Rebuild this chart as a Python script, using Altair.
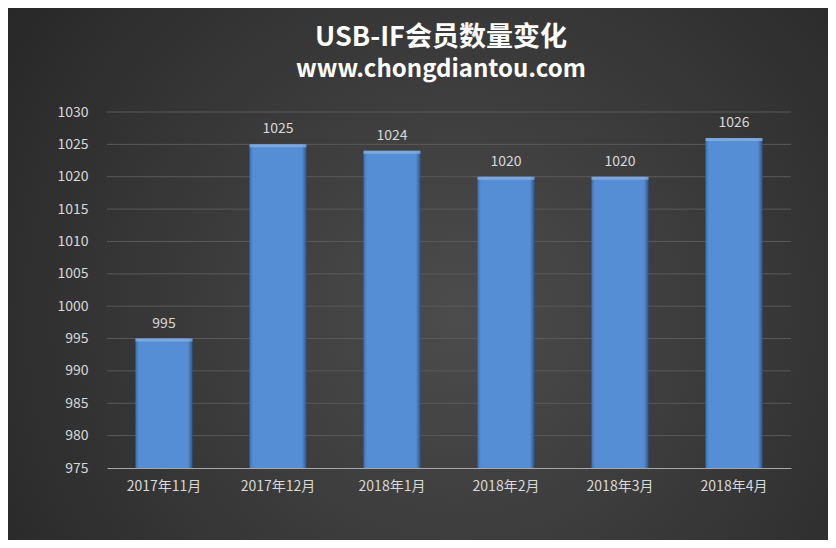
import altair as alt
import pandas as pd

categories = ["2017年11月", "2017年12月", "2018年1月", "2018年2月", "2018年3月", "2018年4月"]
members = [995, 1025, 1024, 1020, 1020, 1026]
y_ticks = [975, 980, 985, 990, 995, 1000, 1005, 1010, 1015, 1020, 1025, 1030]
title_lines = ["USB-IF会员数量变化", "www.chongdiantou.com"]
y_min, y_max = 975, 1030

df = pd.DataFrame({"month": categories, "members": members, "base": [y_min] * len(categories)})
grid_df = pd.DataFrame({"v": y_ticks[1:]})

font = "Noto Sans CJK SC"
W, H = 684, 356
PL, PT = 99, 104
TOTAL_W, TOTAL_H = 820, 532
TITLE_X = 441 - 8 - PL
TITLE_Y = [38 - 8 - PT, 70 - 8 - PT]
TITLE_SIZE = [27, 24]

y_scale = alt.Scale(domain=[y_min, y_max], zero=False, nice=False)
x_scale = alt.Scale(paddingInner=0.5, paddingOuter=0.25)
x_sort = categories

x_axis = alt.Axis(labelAngle=0, labelColor="#d9d9d9", labelFontSize=14, labelFont=font,
                  labelPadding=11, ticks=False, domainColor="#a6a6a6", domainWidth=1.2,
                  grid=False, zindex=1, title=None)
y_axis = alt.Axis(values=y_ticks, format="d", labelOverlap=False, labelColor="#d9d9d9",
                  labelFontSize=14, labelFont=font, labelPadding=19, ticks=False,
                  domain=False, grid=False, zindex=1, title=None)

bg = alt.Chart(df).mark_rect(
    fill=alt.RadialGradient(gradient="radial", x1=0.55, y1=0.55, x2=0.55, y2=0.55, r1=0, r2=0.75,
                            stops=[alt.GradientStop(offset=0, color="#4c4c4c"),
                                   alt.GradientStop(offset=1, color="#232323")])
).encode(x=alt.value(-PL), x2=alt.value(TOTAL_W - PL), y=alt.value(-PT), y2=alt.value(TOTAL_H - PT))

grid = alt.Chart(grid_df).mark_rule(color="#5a5a5a", strokeWidth=1).encode(
    y=alt.Y("v:Q", scale=y_scale, axis=y_axis), x=alt.value(0), x2=alt.value(W))

bars = alt.Chart(df).mark_bar(
    fill=alt.LinearGradient(gradient="linear", x1=0, y1=0, x2=1, y2=0,
                            stops=[alt.GradientStop(offset=0, color="#3f6fae"),
                                   alt.GradientStop(offset=0.06, color="#558ed5"),
                                   alt.GradientStop(offset=0.92, color="#558ed5"),
                                   alt.GradientStop(offset=1, color="#2e5587")])
).encode(
    x=alt.X("month:N", sort=x_sort, scale=x_scale, axis=x_axis),
    y=alt.Y("members:Q", scale=y_scale, axis=y_axis),
    y2="base:Q",
)

tops = alt.Chart(df).mark_tick(color="#8db4e2", thickness=3, size=57, yOffset=1.5).encode(
    x=alt.X("month:N", sort=x_sort, scale=x_scale, axis=x_axis),
    y=alt.Y("members:Q", scale=y_scale, axis=y_axis))

labels = alt.Chart(df).mark_text(color="#d9d9d9", fontSize=14, font=font, dy=-15).encode(
    x=alt.X("month:N", sort=x_sort, scale=x_scale, axis=x_axis),
    y=alt.Y("members:Q", scale=y_scale, axis=y_axis),
    text="members:Q")

title_layers = []
for i, line in enumerate(title_lines):
    tdf = pd.DataFrame({"t": [line]})
    title_layers.append(
        alt.Chart(tdf).mark_text(font=font, fontSize=TITLE_SIZE[i], fontWeight="bold", color="#ffffff",
                                 baseline="middle", align="center").encode(
            x=alt.value(TITLE_X), y=alt.value(TITLE_Y[i]), text="t:N"))

chart = alt.layer(bg, grid, bars, tops, labels, *title_layers).properties(
    width=W, height=H,
    autosize=alt.AutoSizeParams(type="none"),
    padding={"left": PL, "top": PT, "right": TOTAL_W - PL - W, "bottom": TOTAL_H - PT - H},
    background="#2a2a2a",
).configure_view(stroke=None)

chart.save("out.html", embed_options={"renderer": "svg", "actions": False})
